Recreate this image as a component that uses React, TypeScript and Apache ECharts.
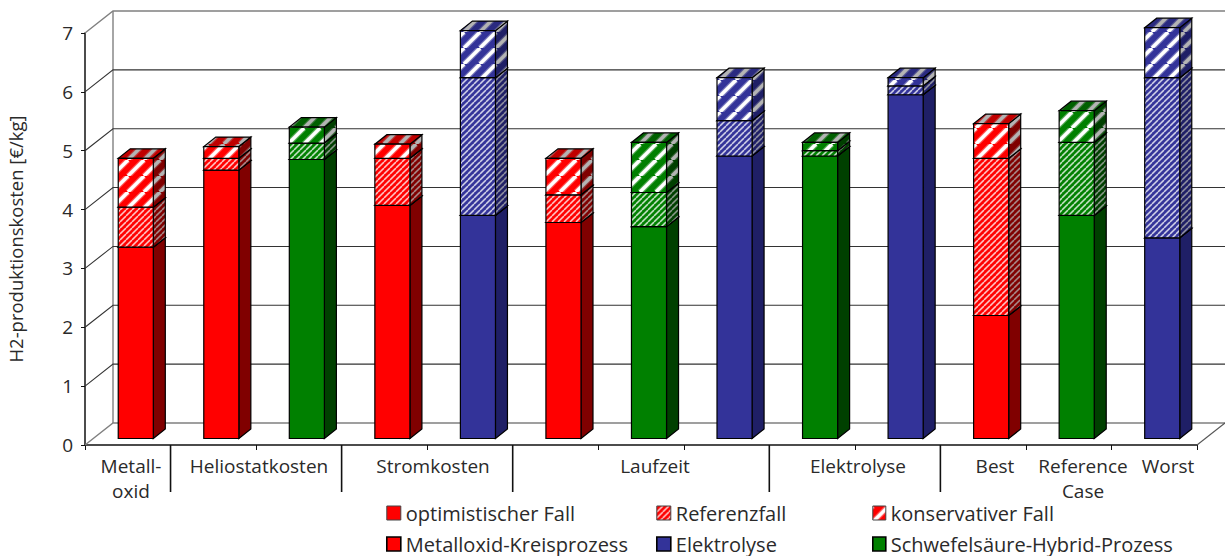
import React, { useEffect, useRef } from "react";
import * as echarts from "echarts";

// Scenario stack per bar: upper bound of each case in €/kg.
const barKeys = ["M1", "H1", "H2", "S1", "S2", "L1", "L2", "L3", "E1", "E2", "B", "R", "W"];
const optimistic = [3.25, 4.56, 4.74, 3.96, 3.79, 3.67, 3.6, 4.8, 4.8, 5.84, 2.09, 3.79, 3.41];
const reference = [3.93, 4.76, 5.02, 4.76, 6.13, 4.14, 4.18, 5.4, 4.89, 5.99, 4.76, 5.03, 6.13];
const conservative = [4.76, 4.96, 5.29, 5.0, 6.93, 4.76, 5.03, 6.13, 5.03, 6.13, 5.35, 5.57, 6.98];
const processOfBar = ["M", "M", "S", "M", "E", "M", "S", "E", "S", "E", "M", "S", "E"];
const yTicks = [0, 1, 2, 3, 4, 5, 6, 7];
const caseNames = ["optimistischer Fall", "Referenzfall", "konservativer Fall"];
const processNames = ["Metalloxid-Kreisprozess", "Elektrolyse", "Schwefelsäure-Hybrid-Prozess"];
const groupLabels = ["Metall-\noxid", "Heliostatkosten", "Stromkosten", "Laufzeit", "Elektrolyse", "Best", "Reference\nCase", "Worst"];
const separatorsAfterBar = [0, 2, 4, 7, 9];

// Layout of the box: front plane of the axes and the projection to the back wall.
const W = 1225;
const H = 556;
const G = { left: 85, right: 1197, top: 33, bottom: 445 };
const WALL = { dx: 28, dy: 22 };
const BAR = { dx: 12, dy: 9.5, inX: 8, inY: 6.5, widthRatio: 0.41 };
const FONT = '"Open Sans", "Noto Sans", sans-serif';
const TEXT = "#2a2a2a";
const labelCentres = [131, 259, 433, 655, 858, 995, 1083, 1168];

const PALETTE: Record<string, { front: string; side: string; top: string }> = {
  M: { front: "#ff0000", side: "#800000", top: "#c00000" },
  E: { front: "#333399", side: "#1f1f66", top: "#2a2a80" },
  S: { front: "#008000", side: "#004000", top: "#006000" },
};

// Diagonal hatch tile with a soft halo around each stripe.
function stripes(bg: string, rgb: string, size: number, lw: number, alpha: number) {
  const c = document.createElement("canvas");
  c.width = size;
  c.height = size;
  const g = c.getContext("2d")!;
  g.fillStyle = bg;
  g.fillRect(0, 0, size, size);
  const pass = (width: number, a: number) => {
    g.strokeStyle = `rgba(${rgb},${a})`;
    g.lineWidth = width;
    for (let i = -1; i <= 1; i++) {
      g.beginPath();
      g.moveTo(i * size, size);
      g.lineTo(i * size + size, 0);
      g.stroke();
    }
  };
  pass(lw * 1.7, alpha * 0.35);
  pass(lw, alpha);
  return { image: c, repeat: "repeat" } as any;
}

function faceFills(process: string, level: number) {
  const p = PALETTE[process];
  if (level === 0) return { front: p.front, side: p.side, top: p.top };
  const size = level === 1 ? 6 : 16;
  const lw = level === 1 ? 1.3 : 3.4;
  const a = level === 1 ? 0.7 : 1;
  return {
    front: stripes(p.front, "255,255,255", size, lw, a),
    side: stripes(p.side, "180,180,180", size, lw, a),
    top: stripes(p.top, "180,180,180", size, lw, a),
  };
}

export default function App() {
  const ref = useRef<HTMLDivElement>(null);
  useEffect(() => {
    if (!ref.current) return;
    const chart = echarts.init(ref.current, undefined, { renderer: "svg" });

    const fills: Record<string, any[]> = {};
    for (const k of Object.keys(PALETTE)) fills[k] = [0, 1, 2].map((l) => faceFills(k, l));

    const levels = [
      barKeys.map((_, i) => [i, 0, optimistic[i]]),
      barKeys.map((_, i) => [i, optimistic[i], reference[i]]),
      barKeys.map((_, i) => [i, reference[i], conservative[i]]),
    ];

    const segmentSeries = levels.map((data, level) => ({
      type: "custom",
      name: caseNames[level],
      silent: true,
      z: 3 + level,
      data,
      renderItem: (_: any, api: any) => {
        const idx = api.value(0);
        const [cx, yLow] = api.coord([idx, api.value(1)]);
        const [, yHigh] = api.coord([idx, api.value(2)]);
        const w = api.size([1, 0])[0] * BAR.widthRatio;
        const x0 = cx + BAR.inX - w / 2;
        const x1 = x0 + w;
        const y0 = yHigh - BAR.inY;
        const y1 = yLow - BAR.inY;
        const f = fills[processOfBar[idx]][level];
        const line = { stroke: "#000", lineWidth: 1.2 };
        return {
          type: "group",
          children: [
            {
              type: "polygon",
              shape: { points: [[x1, y1], [x1 + BAR.dx, y1 - BAR.dy], [x1 + BAR.dx, y0 - BAR.dy], [x1, y0]] },
              style: { fill: f.side, ...line },
            },
            {
              type: "polygon",
              shape: { points: [[x0, y0], [x1, y0], [x1 + BAR.dx, y0 - BAR.dy], [x0 + BAR.dx, y0 - BAR.dy]] },
              style: { fill: f.top, ...line },
            },
            { type: "rect", shape: { x: x0, y: y0, width: w, height: y1 - y0 }, style: { fill: f.front, ...line } },
          ],
        };
      },
    }));

    // Back wall, floor and gridlines of the box.
    const wallSeries = {
      type: "custom",
      name: "wall",
      silent: true,
      z: 1,
      data: yTicks.map((v) => [0, v]),
      renderItem: (_: any, api: any) => {
        const v = api.value(1);
        const [, y] = api.coord([0, v]);
        const outer = v === yTicks[0] || v === yTicks[yTicks.length - 1];
        const stroke = outer ? "#808080" : "#333";
        const lineWidth = outer ? 1.4 : 1.1;
        const children: any[] = [
          {
            type: "polyline",
            shape: { points: [[G.left, y], [G.left + WALL.dx, y - WALL.dy], [G.right + WALL.dx, y - WALL.dy]] },
            style: { fill: "none", stroke, lineWidth },
          },
        ];
        if (v === yTicks[0]) {
          children.push({
            type: "line",
            shape: { x1: G.right, y1: y, x2: G.right + WALL.dx, y2: y - WALL.dy },
            style: { stroke: "#555", lineWidth: 1.1 },
          });
          children.push({
            type: "line",
            shape: { x1: G.left + WALL.dx, y1: y - WALL.dy, x2: G.left + WALL.dx, y2: G.top - WALL.dy },
            style: { stroke: "#808080", lineWidth: 1.4 },
          });
        }
        return { type: "group", children };
      },
    };

    const legendSeries = processNames.map((name) => ({ type: "custom", name, data: [], renderItem: () => null }));

    const legendEntry = (name: string, color: any, strong: boolean) => ({
      name,
      icon: "rect",
      itemStyle: { color, borderColor: strong ? "#000" : "#444", borderWidth: strong ? 1.6 : 1 },
    });
    const legendColumn = (left: number, iconWidth: number, entries: any[]) => ({
      left,
      top: 503,
      orient: "vertical" as const,
      padding: 0,
      itemGap: 11,
      itemWidth: iconWidth,
      itemHeight: 14,
      selectedMode: false,
      textStyle: { fontFamily: FONT, fontSize: 20, color: TEXT, lineHeight: 20 },
      data: entries,
    });

    const band = (G.right - G.left) / barKeys.length;
    const labels = groupLabels.map((text, i) => ({
      type: "text",
      x: labelCentres[i],
      y: 453,
      silent: true,
      style: { text, fontFamily: FONT, fontSize: 19, fill: TEXT, align: "center", verticalAlign: "top", lineHeight: 25 },
    }));
    const separators = separatorsAfterBar.map((i) => ({
      type: "line",
      silent: true,
      shape: {
        x1: G.left + band * (i + 1),
        y1: G.bottom,
        x2: G.left + band * (i + 1),
        y2: 492,
      },
      style: { stroke: "#111", lineWidth: 1.6 },
    }));

    chart.setOption({
      animation: false,
      backgroundColor: "#fff",
      grid: { left: G.left, top: G.top, width: G.right - G.left, height: G.bottom - G.top, outerBoundsMode: "none" },
      xAxis: {
        type: "category",
        data: barKeys,
        axisLine: { lineStyle: { color: "#111", width: 1.5 } },
        axisTick: { show: true, length: 5, inside: false, lineStyle: { color: "#111", width: 1 } },
        axisLabel: { show: false },
      },
      yAxis: {
        type: "value",
        min: 0,
        max: 7,
        interval: 1,
        name: "H2-produktionskosten [€/kg]",
        nameLocation: "middle",
        nameRotate: 90,
        nameGap: 60,
        nameTextStyle: { fontFamily: FONT, fontSize: 18.5, color: TEXT },
        axisLine: { show: true, lineStyle: { color: "#111", width: 1.5 } },
        axisTick: { show: true, length: 4, lineStyle: { color: "#111", width: 1 } },
        splitLine: { show: false },
        axisLabel: { fontFamily: FONT, fontSize: 19, color: TEXT, margin: 12 },
      },
      legend: [
        legendColumn(386, 14, [legendEntry(caseNames[0], PALETTE.M.front, false), legendEntry(processNames[0], PALETTE.M.front, true)]),
        legendColumn(656, 14, [legendEntry(caseNames[1], fills.M[1].front, false), legendEntry(processNames[1], PALETTE.E.front, true)]),
        legendColumn(872, 13, [legendEntry(caseNames[2], fills.M[2].front, false), legendEntry(processNames[2], PALETTE.S.front, true)]),
      ],
      series: [wallSeries, ...segmentSeries, ...legendSeries],
      graphic: [...labels, ...separators],
    });

    return () => chart.dispose();
  }, []);

  return <div ref={ref} style={{ position: "fixed", left: 0, top: 0, width: W, height: H }} />;
}
